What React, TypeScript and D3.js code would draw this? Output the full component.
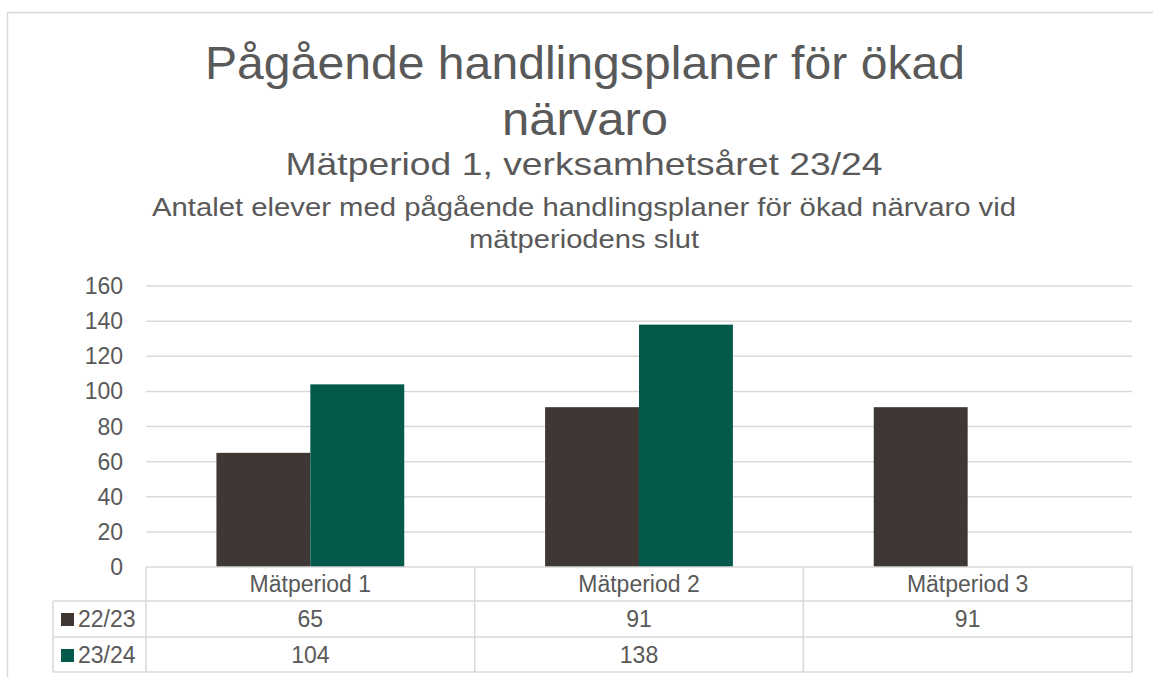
import React from "react";
import * as d3 from "d3";

const categories = ["Mätperiod 1", "Mätperiod 2", "Mätperiod 3"];
const seriesNames = ["22/23", "23/24"];
const values2223: (number | null)[] = [65, 91, 91];
const values2324: (number | null)[] = [104, 138, null];
const seriesColors = ["#3f3734", "#03594a"];
const yTicks = [0, 20, 40, 60, 80, 100, 120, 140, 160];
const titleLines = ["Pågående handlingsplaner för ökad", "närvaro"];
const subtitle = "Mätperiod 1, verksamhetsåret 23/24";
const subtitle2Lines = [
  "Antalet elever med pågående handlingsplaner för ökad närvaro vid",
  "mätperiodens slut",
];

const W = 1153;
const H = 677;
const FONT = "'Liberation Sans', Arial, sans-serif";
const TEXT = "#595959";
const GRID = "#d9d9d9";

// text widths observed in the reference (stretch to match)
const titleWidths = [760, 166];
const subtitleWidth = 597;
const subtitle2Widths = [864, 230];

export default function App() {
  const x0 = 146;
  const x1 = 1132;
  const yScale = d3.scaleLinear().domain([0, 160]).range([567, 286]);
  const xBand = d3.scaleBand<string>().domain(categories).range([x0, x1]).paddingInner(0).paddingOuter(0);
  const C = xBand.bandwidth();
  const barW = C / 3.5;
  const inner = d3.scaleBand<string>().domain(seriesNames).range([0.75 * barW, 0.75 * barW + 2 * barW]);
  const series = [values2223, values2324];

  const headerTop = yScale(0);
  const rowY = [headerTop, 601, 637, 672];
  const tableLeft = 53;

  return (
    <svg width={W} height={H} style={{ position: "absolute", left: 0, top: 0, fontFamily: FONT }}>
      <rect x={0} y={0} width={W} height={H} fill="#fff" />
      <rect x={7.5} y={12.5} width={W + 10} height={H} fill="none" stroke={GRID} strokeWidth={1.5} />

      {/* Titles */}
      {titleLines.map((t, i) => (
        <text
          key={t}
          x={585 - titleWidths[i] / 2}
          y={79 + i * 56}
          fontSize={46}
          fill={TEXT}
          textLength={titleWidths[i]}
          lengthAdjust="spacingAndGlyphs"
        >
          {t}
        </text>
      ))}
      <text
        x={584 - subtitleWidth / 2}
        y={175}
        fontSize={32}
        fill={TEXT}
        textLength={subtitleWidth}
        lengthAdjust="spacingAndGlyphs"
      >
        {subtitle}
      </text>
      {subtitle2Lines.map((t, i) => (
        <text
          key={t}
          x={584 - subtitle2Widths[i] / 2}
          y={216 + i * 32}
          fontSize={25}
          fill={TEXT}
          textLength={subtitle2Widths[i]}
          lengthAdjust="spacingAndGlyphs"
        >
          {t}
        </text>
      ))}

      {/* Grid */}
      {yTicks.map((t) => (
        <g key={t}>
          {t > 0 && (
            <line x1={x0} x2={x1} y1={yScale(t)} y2={yScale(t)} stroke={GRID} strokeWidth={1.5} />
          )}
          <text x={123} y={yScale(t) + 8} textAnchor="end" fontSize={23} fill={TEXT}>
            {t}
          </text>
        </g>
      ))}

      {/* Bars */}
      {categories.map((c, ci) =>
        series.map((vals, si) => {
          const v = vals[ci];
          if (v == null) return null;
          const bx = (xBand(c) as number) + (inner(seriesNames[si]) as number);
          return (
            <rect
              key={c + si}
              x={bx}
              y={yScale(v)}
              width={barW}
              height={yScale(0) - yScale(v)}
              fill={seriesColors[si]}
            />
          );
        })
      )}

      {/* Data table */}
      <line x1={x0} x2={x1} y1={rowY[0]} y2={rowY[0]} stroke={GRID} strokeWidth={1.5} />
      {[1, 2, 3].map((r) => (
        <line key={r} x1={tableLeft} x2={x1} y1={rowY[r]} y2={rowY[r]} stroke={GRID} strokeWidth={1.5} />
      ))}
      <line x1={tableLeft} x2={tableLeft} y1={rowY[1]} y2={rowY[3]} stroke={GRID} strokeWidth={1.5} />
      {[x0, ...categories.map((c) => (xBand(c) as number) + C)].map((xx, i) => (
        <line key={i} x1={xx} x2={xx} y1={rowY[0]} y2={rowY[3]} stroke={GRID} strokeWidth={1.5} />
      ))}
      {categories.map((c) => (
        <text key={c} x={(xBand(c) as number) + C / 2} y={592} textAnchor="middle" fontSize={23} fill={TEXT}>
          {c}
        </text>
      ))}
      {series.map((vals, si) => (
        <g key={si}>
          <rect x={61} y={rowY[si + 1] + 12} width={13} height={13} fill={seriesColors[si]} />
          <text x={78} y={rowY[si + 1] + 26} fontSize={23} fill={TEXT}>
            {seriesNames[si]}
          </text>
          {categories.map((c, ci) =>
            vals[ci] == null ? null : (
              <text
                key={c}
                x={(xBand(c) as number) + C / 2}
                y={rowY[si + 1] + 26}
                textAnchor="middle"
                fontSize={23}
                fill={TEXT}
              >
                {vals[ci]}
              </text>
            )
          )}
        </g>
      ))}
    </svg>
  );
}
